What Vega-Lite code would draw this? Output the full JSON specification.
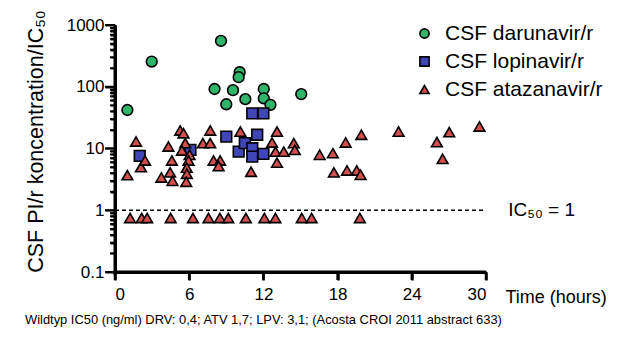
{
  "$schema": "https://vega.github.io/schema/vega-lite/v6.json",
  "width": 371,
  "height": 247,
  "autosize": {"type": "none"},
  "padding": {"left": 115, "top": 25, "right": 148, "bottom": 67},
  "background": "white",
  "config": {
    "view": {"stroke": null, "fill": null},
    "font": "Liberation Sans",
    "axis": {"grid": false, "domain": true, "ticks": true, "domainColor": "black", "domainWidth": 3, "tickColor": "black", "tickWidth": 2, "labelColor": "black", "titleColor": "black", "labelFont": "Liberation Sans", "titleFont": "Liberation Sans", "titleFontWeight": "normal"}
  },
  "title": {
    "text": "Wildtyp IC50 (ng/ml) DRV: 0,4; ATV 1,7; LPV: 3,1; (Acosta CROI 2011 abstract 633)",
    "orient": "bottom",
    "anchor": "start",
    "frame": "group",
    "dx": -90,
    "offset": 8,
    "fontSize": 12.9,
    "fontWeight": "normal",
    "color": "black",
    "font": "Liberation Sans"
  },
  "datasets": {
    "xticks": [{"t": 0}, {"t": 6}, {"t": 12}, {"t": 18}, {"t": 24}, {"t": 30}],
    "ymajor": [{"v": 0.1}, {"v": 1}, {"v": 10}, {"v": 100}, {"v": 1000}],
    "yminor": [{"v": 0.2}, {"v": 0.3}, {"v": 0.4}, {"v": 0.5}, {"v": 0.6}, {"v": 0.7}, {"v": 0.8}, {"v": 0.9}, {"v": 2}, {"v": 3}, {"v": 4}, {"v": 5}, {"v": 6}, {"v": 7}, {"v": 8}, {"v": 9}, {"v": 20}, {"v": 30}, {"v": 40}, {"v": 50}, {"v": 60}, {"v": 70}, {"v": 80}, {"v": 90}, {"v": 200}, {"v": 300}, {"v": 400}, {"v": 500}, {"v": 600}, {"v": 700}, {"v": 800}, {"v": 900}],
    "pts": [
      {"drug": "CSF darunavir/r", "t": 1.0, "v": 42},
      {"drug": "CSF darunavir/r", "t": 2.97, "v": 256},
      {"drug": "CSF darunavir/r", "t": 8.57, "v": 553},
      {"drug": "CSF darunavir/r", "t": 10.08, "v": 172},
      {"drug": "CSF darunavir/r", "t": 10.0, "v": 143},
      {"drug": "CSF darunavir/r", "t": 8.05, "v": 92},
      {"drug": "CSF darunavir/r", "t": 9.54, "v": 88},
      {"drug": "CSF darunavir/r", "t": 9.0, "v": 52},
      {"drug": "CSF darunavir/r", "t": 10.54, "v": 63},
      {"drug": "CSF darunavir/r", "t": 12.03, "v": 92},
      {"drug": "CSF darunavir/r", "t": 12.03, "v": 65},
      {"drug": "CSF darunavir/r", "t": 12.57, "v": 51},
      {"drug": "CSF darunavir/r", "t": 15.06, "v": 76},
      {"drug": "CSF lopinavir/r", "t": 2.0, "v": 7.6},
      {"drug": "CSF lopinavir/r", "t": 6.1, "v": 9.5},
      {"drug": "CSF lopinavir/r", "t": 9.0, "v": 15.6},
      {"drug": "CSF lopinavir/r", "t": 10.0, "v": 8.9},
      {"drug": "CSF lopinavir/r", "t": 10.5, "v": 12.2},
      {"drug": "CSF lopinavir/r", "t": 11.1, "v": 10.1},
      {"drug": "CSF lopinavir/r", "t": 11.1, "v": 7.4},
      {"drug": "CSF lopinavir/r", "t": 11.5, "v": 16.7},
      {"drug": "CSF lopinavir/r", "t": 12.0, "v": 8.2},
      {"drug": "CSF lopinavir/r", "t": 11.1, "v": 37},
      {"drug": "CSF lopinavir/r", "t": 12.0, "v": 37},
      {"drug": "CSF atazanavir/r", "t": 1.0, "v": 3.7},
      {"drug": "CSF atazanavir/r", "t": 1.7, "v": 13},
      {"drug": "CSF atazanavir/r", "t": 2.1, "v": 5.0},
      {"drug": "CSF atazanavir/r", "t": 2.43, "v": 6.4},
      {"drug": "CSF atazanavir/r", "t": 3.75, "v": 3.4},
      {"drug": "CSF atazanavir/r", "t": 4.32, "v": 10.8},
      {"drug": "CSF atazanavir/r", "t": 4.6, "v": 6.4},
      {"drug": "CSF atazanavir/r", "t": 4.46, "v": 4.1},
      {"drug": "CSF atazanavir/r", "t": 4.65, "v": 3.0},
      {"drug": "CSF atazanavir/r", "t": 5.27, "v": 19.6},
      {"drug": "CSF atazanavir/r", "t": 5.54, "v": 17.7},
      {"drug": "CSF atazanavir/r", "t": 5.68, "v": 12.2},
      {"drug": "CSF atazanavir/r", "t": 5.41, "v": 9.3},
      {"drug": "CSF atazanavir/r", "t": 6.03, "v": 7.9},
      {"drug": "CSF atazanavir/r", "t": 5.95, "v": 6.4},
      {"drug": "CSF atazanavir/r", "t": 5.8, "v": 4.9},
      {"drug": "CSF atazanavir/r", "t": 5.81, "v": 3.9},
      {"drug": "CSF atazanavir/r", "t": 5.76, "v": 2.9},
      {"drug": "CSF atazanavir/r", "t": 7.11, "v": 12.2},
      {"drug": "CSF atazanavir/r", "t": 7.7, "v": 12.2},
      {"drug": "CSF atazanavir/r", "t": 7.7, "v": 19.6},
      {"drug": "CSF atazanavir/r", "t": 7.97, "v": 6.4},
      {"drug": "CSF atazanavir/r", "t": 8.5, "v": 6.4},
      {"drug": "CSF atazanavir/r", "t": 8.38, "v": 5.2},
      {"drug": "CSF atazanavir/r", "t": 10.14, "v": 18.8},
      {"drug": "CSF atazanavir/r", "t": 11.0, "v": 4.2},
      {"drug": "CSF atazanavir/r", "t": 13.1, "v": 18.8},
      {"drug": "CSF atazanavir/r", "t": 12.7, "v": 12.5},
      {"drug": "CSF atazanavir/r", "t": 12.98, "v": 8.9},
      {"drug": "CSF atazanavir/r", "t": 13.65, "v": 8.9},
      {"drug": "CSF atazanavir/r", "t": 14.46, "v": 12.2},
      {"drug": "CSF atazanavir/r", "t": 14.54, "v": 9.5},
      {"drug": "CSF atazanavir/r", "t": 13.1, "v": 5.9},
      {"drug": "CSF atazanavir/r", "t": 16.55, "v": 7.9},
      {"drug": "CSF atazanavir/r", "t": 17.62, "v": 8.4},
      {"drug": "CSF atazanavir/r", "t": 18.65, "v": 12.5},
      {"drug": "CSF atazanavir/r", "t": 19.92, "v": 16.7},
      {"drug": "CSF atazanavir/r", "t": 17.7, "v": 4.1},
      {"drug": "CSF atazanavir/r", "t": 18.76, "v": 4.4},
      {"drug": "CSF atazanavir/r", "t": 19.55, "v": 4.4},
      {"drug": "CSF atazanavir/r", "t": 19.86, "v": 3.75},
      {"drug": "CSF atazanavir/r", "t": 22.93, "v": 18.8},
      {"drug": "CSF atazanavir/r", "t": 26.03, "v": 12.7},
      {"drug": "CSF atazanavir/r", "t": 27.03, "v": 18.4},
      {"drug": "CSF atazanavir/r", "t": 29.47, "v": 22.7},
      {"drug": "CSF atazanavir/r", "t": 26.49, "v": 6.8},
      {"drug": "CSF atazanavir/r", "t": 1.22, "v": 0.75},
      {"drug": "CSF atazanavir/r", "t": 2.16, "v": 0.75},
      {"drug": "CSF atazanavir/r", "t": 2.6, "v": 0.75},
      {"drug": "CSF atazanavir/r", "t": 4.5, "v": 0.75},
      {"drug": "CSF atazanavir/r", "t": 6.3, "v": 0.75},
      {"drug": "CSF atazanavir/r", "t": 7.56, "v": 0.75},
      {"drug": "CSF atazanavir/r", "t": 8.48, "v": 0.75},
      {"drug": "CSF atazanavir/r", "t": 9.16, "v": 0.75},
      {"drug": "CSF atazanavir/r", "t": 10.58, "v": 0.75},
      {"drug": "CSF atazanavir/r", "t": 12.08, "v": 0.75},
      {"drug": "CSF atazanavir/r", "t": 12.97, "v": 0.75},
      {"drug": "CSF atazanavir/r", "t": 15.1, "v": 0.75},
      {"drug": "CSF atazanavir/r", "t": 15.9, "v": 0.75},
      {"drug": "CSF atazanavir/r", "t": 19.8, "v": 0.75}
    ]
  },
  "layer": [
    {
      "data": {"name": "pts"},
      "mark": {"type": "point", "filled": true, "stroke": "black", "strokeWidth": 1.6, "size": 115, "opacity": 1, "clip": false},
      "encoding": {
        "x": {
          "field": "t", "type": "quantitative",
          "scale": {"domain": [0, 30], "nice": false},
          "axis": {"values": [0, 6, 12, 18, 24, 30], "tickSize": 8, "tickWidth": 2.5, "labelFontSize": 17, "labelPadding": 6, "title": "Time (hours)", "titleFontSize": 18, "titleX": 390, "titleY": 30, "titleAlign": "left", "titleBaseline": "alphabetic", "titleAnchor": null}
        },
        "y": {
          "field": "v", "type": "quantitative",
          "scale": {"type": "log", "domain": [0.1, 1000], "nice": false},
          "axis": {
            "values": [0.1, 0.2, 0.3, 0.4, 0.5, 0.6, 0.7, 0.8, 0.9, 1, 2, 3, 4, 5, 6, 7, 8, 9, 10, 20, 30, 40, 50, 60, 70, 80, 90, 100, 200, 300, 400, 500, 600, 700, 800, 900, 1000],
            "labelExpr": "abs(log(datum.value)/LN10 - round(log(datum.value)/LN10)) < 1e-6 ? format(datum.value, '~g') : ''",
            "tickSize": {"condition": {"test": "abs(log(datum.value)/LN10 - round(log(datum.value)/LN10)) < 1e-6", "value": 10}, "value": 5},
            "labelFontSize": 17, "labelPadding": 1, "labelBound": false, "labelOverlap": false,
            "title": "CSF PI/r koncentration/IC₅₀", "titleFontSize": 21.5, "titleX": -79, "titleY": 116, "titleAngle": -90, "titleAlign": "center", "titleBaseline": "middle"
          }
        },
        "color": {
          "field": "drug", "type": "nominal",
          "scale": {"domain": ["CSF darunavir/r", "CSF lopinavir/r", "CSF atazanavir/r"], "range": ["#2fb56a", "#4046b5", "#d34f4f"]},
          "legend": {"orient": "none", "legendX": 299, "legendY": -2, "title": null, "labelFontSize": 21, "labelFont": "Liberation Sans", "labelColor": "black", "labelLimit": 300, "symbolSize": 85, "symbolStrokeColor": "black", "symbolStrokeWidth": 1.6, "labelOffset": 10, "rowPadding": 6}
        },
        "shape": {
          "field": "drug", "type": "nominal",
          "scale": {"domain": ["CSF darunavir/r", "CSF lopinavir/r", "CSF atazanavir/r"], "range": ["circle", "square", "triangle-up"]}
        }
      }
    },
    {
      "data": {"values": [{}]},
      "mark": {"type": "rule", "strokeDash": [4, 3], "strokeWidth": 1.5, "color": "black", "clip": false},
      "encoding": {
        "x": {"datum": 0, "type": "quantitative"},
        "x2": {"datum": 30},
        "y": {"datum": 1, "type": "quantitative"}
      }
    },
    {
      "data": {"values": [{}]},
      "mark": {"type": "rect", "color": "black", "height": 3, "clip": false},
      "encoding": {
        "x": {"datum": -0.12, "type": "quantitative"},
        "x2": {"datum": 30},
        "y": {"datum": 0.1, "type": "quantitative"}
      }
    },
    {
      "data": {"values": [{}]},
      "mark": {"type": "rect", "color": "black", "width": 3, "clip": false},
      "encoding": {
        "x": {"datum": 0, "type": "quantitative"},
        "y": {"datum": 0.0894, "type": "quantitative"},
        "y2": {"datum": 1000}
      }
    },
    {
      "data": {"name": "xticks"},
      "mark": {"type": "rect", "color": "black", "width": 2.5, "height": 8, "clip": false},
      "encoding": {
        "x": {"field": "t", "type": "quantitative"},
        "y": {"datum": 0.0861, "type": "quantitative"}
      }
    },
    {
      "data": {"name": "ymajor"},
      "mark": {"type": "rect", "color": "black", "width": 10, "height": 2, "clip": false},
      "encoding": {
        "x": {"datum": -0.404, "type": "quantitative"},
        "y": {"field": "v", "type": "quantitative"}
      }
    },
    {
      "data": {"name": "yminor"},
      "mark": {"type": "rect", "color": "black", "width": 5, "height": 1.7, "clip": false},
      "encoding": {
        "x": {"datum": -0.202, "type": "quantitative"},
        "y": {"field": "v", "type": "quantitative"}
      }
    },
    {
      "data": {"values": [{}]},
      "mark": {"type": "text", "align": "left", "baseline": "middle", "fontSize": 19, "font": "Liberation Sans", "color": "black"},
      "encoding": {
        "x": {"datum": 31.8, "type": "quantitative"},
        "y": {"datum": 1, "type": "quantitative"},
        "text": {"value": "IC₅₀ = 1"}
      }
    }
  ]
}
